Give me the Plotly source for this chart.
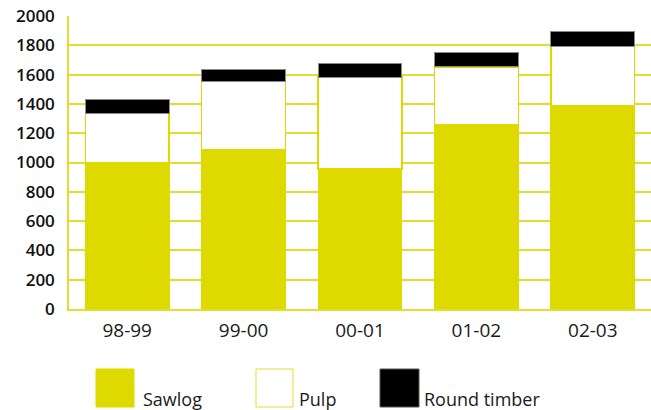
import plotly.graph_objects as go

categories = ["98-99", "99-00", "00-01", "01-02", "02-03"]
sawlog = [1000, 1090, 955, 1255, 1390]
pulp = [333, 465, 627, 397, 405]
round_timber = [94, 82, 95, 100, 98]
y_ticks = [0, 200, 400, 600, 800, 1000, 1200, 1400, 1600, 1800, 2000]

YELLOW = "#DEDA00"
GRID = "#E2DD30"

W, H = 651, 410
L, R, T, B = 69, 0, 16, 101
PW, PH = W - L - R, H - T - B

fig = go.Figure()
fig.add_trace(go.Bar(x=categories, y=sawlog, name="Sawlog",
                     marker=dict(color=YELLOW, line=dict(color=YELLOW, width=1))))
fig.add_trace(go.Bar(x=categories, y=pulp, name="Pulp",
                     marker=dict(color="white", line=dict(color=YELLOW, width=1.5))))
fig.add_trace(go.Bar(x=categories, y=round_timber, name="Round timber",
                     marker=dict(color="black", line=dict(color="#8a8a8a", width=1))))

def px_x(p):
    return (p - L) / PW

def px_y(p):
    return (H - B - p) / PH

legend_items = [
    ("Sawlog", YELLOW, YELLOW, 96, 134, 141),
    ("Pulp", "white", "#E2DD30", 256, 293, 297),
    ("Round timber", "black", "#555555", 380, 419, 422),
]
shapes = []
annotations = []
for name, fill, edge, x0, x1, tx in legend_items:
    shapes.append(dict(type="rect", xref="paper", yref="paper",
                       x0=px_x(x0), x1=px_x(x1), y0=px_y(407), y1=px_y(369),
                       fillcolor=fill, line=dict(color=edge, width=1)))
    annotations.append(dict(text=name, xref="paper", yref="paper",
                            x=px_x(tx), y=px_y(399), xanchor="left", yanchor="middle",
                            showarrow=False,
                            font=dict(family="Open Sans", size=18, color="#1a1a1a")))

fig.update_layout(
    width=W, height=H,
    margin=dict(l=L, r=R, t=T, b=B),
    barmode="stack",
    bargap=0.28,
    paper_bgcolor="white",
    plot_bgcolor="white",
    showlegend=False,
    shapes=shapes,
    annotations=annotations,
    font=dict(family="Open Sans", color="#1a1a1a"),
)
fig.update_yaxes(
    range=[0, 2000], tickvals=y_ticks, showgrid=True, gridcolor=GRID, gridwidth=1.5,
    showline=True, linecolor=GRID, linewidth=1.5, zeroline=False,
    ticks="", ticklabelstandoff=9,
    tickfont=dict(family="Open Sans", size=17, color="#111111", weight=600),
)
fig.update_xaxes(
    type="category",
    showline=True, linecolor=GRID, linewidth=1.5, showgrid=False,
    ticks="", ticklabelstandoff=3,
    tickfont=dict(family="Open Sans", size=19, color="#1a1a1a"),
)

fig.write_html("out.html")
